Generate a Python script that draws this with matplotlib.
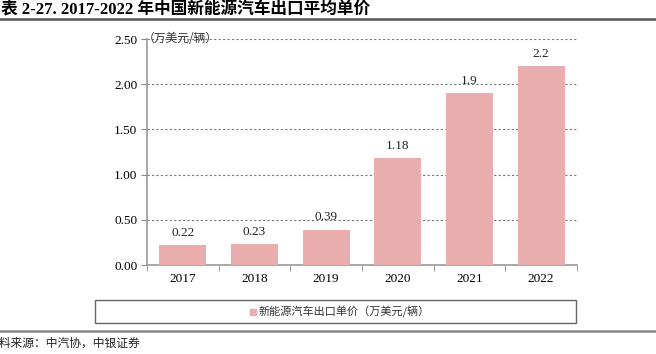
import matplotlib.pyplot as plt
from matplotlib.patches import Rectangle
from matplotlib.lines import Line2D

years = ['2017', '2018', '2019', '2020', '2021', '2022']
price = [0.22, 0.23, 0.39, 1.18, 1.9, 2.2]
labels = ['0.22', '0.23', '0.39', '1.18', '1.9', '2.2']
yticks = [0.0, 0.5, 1.0, 1.5, 2.0, 2.5]

serif = ['Liberation Serif', 'Noto Sans CJK SC']
cjk = ['Noto Sans CJK SC', 'DejaVu Sans']
bar_color = '#e8adac'

W, H = 656, 354
fig = plt.figure(figsize=(W / 100, H / 100), dpi=100)
ax = fig.add_axes([147 / W, 1 - 265 / H, 430 / W, 226 / H])

x = range(len(years))
ax.bar(x, price, width=0.66, color=bar_color, zorder=3)
for i, (v, t) in enumerate(zip(price, labels)):
    ax.text(i, v + 0.07, t, ha='center', va='bottom', fontsize=9.5,
            family=serif, color='#222222', zorder=4)

ax.set_xlim(-0.5, len(years) - 0.5)
ax.set_ylim(0, 2.5)
ax.set_yticks(yticks)
ax.set_yticklabels(['%.2f' % t for t in yticks], family=serif, fontsize=9.5)
ax.set_xticks(list(x))
ax.set_xticklabels(years, family=serif, fontsize=9.5)
ax.set_xticks([i - 0.5 for i in range(len(years) + 1)], minor=True)
ax.tick_params(axis='x', which='major', length=0, pad=6)
ax.tick_params(axis='x', which='minor', length=4, color='#888888', direction='out')
ax.tick_params(axis='y', length=4, color='#888888', direction='out', pad=3)
ax.yaxis.grid(True, linestyle=(0, (2, 2)), color='#777777', linewidth=0.8, zorder=0)
for s in ['top', 'right']:
    ax.spines[s].set_visible(False)
for s in ['left', 'bottom']:
    ax.spines[s].set_color('#999999')
    ax.spines[s].set_linewidth(1.2)

# unit label
fig.text(143 / W, 1 - 38 / H, '（万美元/辆）', family=cjk, fontsize=8.5,
         ha='left', va='center', color='#333333')

# title and rule
fig.text(1 / W, 1 - 10 / H, '表 2-27. 2017-2022 年中国新能源汽车出口平均单价',
         family=serif, fontsize=12, fontweight='bold', ha='left', va='center')
fig.add_artist(Line2D([0, 1], [1 - 19 / H, 1 - 19 / H], color='#555555', linewidth=1.8))

# legend box
fig.add_artist(Rectangle((95 / W, 1 - 323 / H), 481 / W, 23 / H, fill=False,
                         edgecolor='#666666', linewidth=1.0))
fig.add_artist(Rectangle((250 / W, 1 - 314.5 / H), 6 / W, 6 / H, color=bar_color))
fig.text(259 / W, 1 - 311.5 / H, '新能源汽车出口单价（万美元/辆）', family=cjk,
         fontsize=8, ha='left', va='center', color='#333333')

# bottom rule and source
fig.add_artist(Line2D([0, 1], [1 - 331 / H, 1 - 331 / H], color='#888888', linewidth=1.8))
fig.text(-13 / W, 1 - 343 / H, '资料来源：中汽协，中银证券', family=cjk,
         fontsize=8.5, ha='left', va='center', color='#222222')

fig.savefig('out.png', dpi=100)
